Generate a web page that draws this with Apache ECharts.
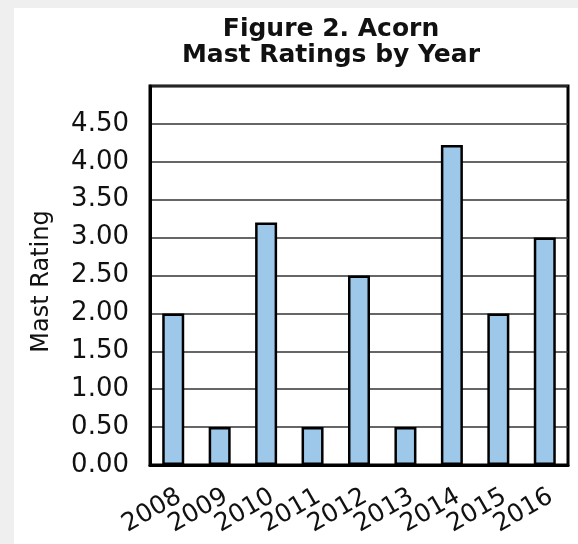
<!DOCTYPE html>
<html>
<head>
<meta charset="utf-8">
<script src="https://cdn.jsdelivr.net/npm/echarts@6/dist/echarts.min.js"></script>
<style>
    html,body{margin:0;padding:0;background:#efefef;}
    #main{width:578px;height:544px;}
</style>
</head>
<body>
<div id="main"></div>
<script>
    var years=['2008','2009','2010','2011','2012','2013','2014','2015','2016'];
    var ratings=[2.0,0.5,3.2,0.5,2.5,0.5,4.22,2.0,3.0];
    var yTicks=[0,0.5,1,1.5,2,2.5,3,3.5,4,4.5]; // 5.00 is the frame, no label

    var myChart=echarts.init(document.getElementById('main'));
    var font='DejaVu Sans, Verdana, sans-serif';
    var option={
        backgroundColor:'#efefef',
        animation:false,
        graphic:[{
            type:'rect',
            z:-10,
            shape:{x:14,y:8,width:564,height:536},
            style:{fill:'#ffffff'}
        }],
        title:{
            text:'Figure 2. Acorn\nMast Ratings by Year',
            left:326,
            top:11,
            textAlign:'center',
            textStyle:{
                fontFamily:font,
                fontWeight:'bold',
                fontSize:25,
                lineHeight:26,
                color:'#111'
            }
        },
        grid:{
            left:150,
            right:10,
            top:86,
            bottom:79,
            show:true,
            borderColor:'#000',
            borderWidth:3,
            backgroundColor:'#fff'
        },
        xAxis:{
            type:'category',
            data:years,
            axisLine:{lineStyle:{color:'#000',width:3}},
            axisTick:{show:false},
            axisLabel:{
                interval:0,
                rotate:30,
                margin:19,
                align:'right',
                verticalAlign:'top',
                fontFamily:font,
                fontSize:25,
                color:'#111'
            }
        },
        yAxis:{
            type:'value',
            min:0,
            max:5,
            interval:0.5,
            name:'Mast Rating',
            nameLocation:'middle',
            nameGap:96,
            nameTextStyle:{fontFamily:font,fontSize:24,color:'#111',padding:[0,12,0,0]},
            axisLine:{show:true,lineStyle:{color:'#000',width:3}},
            axisTick:{show:false},
            splitLine:{lineStyle:{color:'#333',width:1.5}},
            axisLabel:{
                margin:21,
                fontFamily:font,
                fontSize:26,
                color:'#111',
                formatter:function(v){
                    return yTicks.indexOf(v)>-1 ? v.toFixed(2) : '';
                }
            }
        },
        series:[{
            type:'bar',
            data:ratings,
            barWidth:22,
            itemStyle:{
                color:'#9dc8ea',
                borderColor:'#000',
                borderWidth:2.5
            }
        }]
    };
    myChart.setOption(option);
</script>
</body>
</html>
